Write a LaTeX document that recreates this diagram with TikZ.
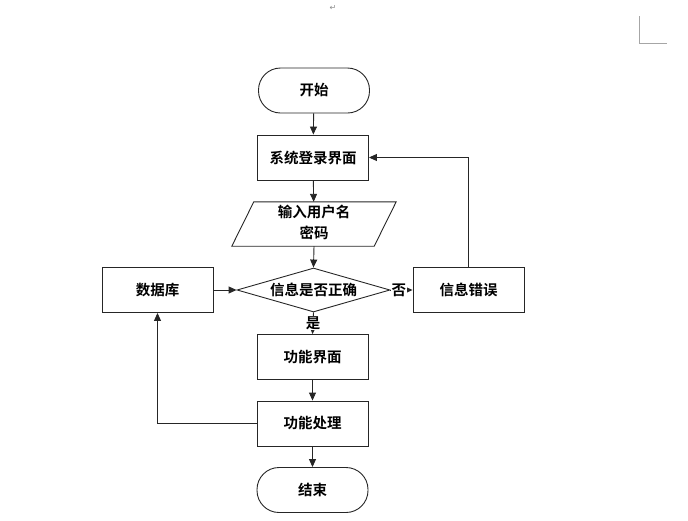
\documentclass[tikz,border=0pt]{standalone}
\usepackage{fontspec}
\setmainfont{Noto Sans CJK SC}[BoldFont={Noto Sans CJK SC Bold}]
\newfontfamily\symfont{DejaVu Sans}
\usetikzlibrary{arrows.meta,shapes.geometric,positioning,calc}
\tikzset{
  every node/.style={font=\fontsize{14.5}{16}\selectfont\bfseries},
  box/.style={draw=black!85,line width=0.9pt,minimum width=111pt,minimum height=45pt,inner sep=0pt},
  term/.style={box,rounded corners=22pt},
  plain/.style={minimum width=164pt,minimum height=44pt,inner sep=0pt},
  decision/.style={diamond,draw=black!85,line width=0.9pt,minimum width=153pt,minimum height=44pt,inner sep=0pt,aspect=3.5},
  conn/.style={draw=black!85,line width=0.9pt,-{Triangle[length=8pt,width=7pt]}},
  lab/.style={fill=white,inner sep=0.5pt},
}
\begin{document}
\begin{tikzpicture}[x=1pt,y=-1pt]
\useasboundingbox (0,0) rectangle (688,520);
% page artefacts
\node[text=black!45,font=\symfont\fontsize{8}{8}\selectfont] (pm) at (333,8) {↵};
\coordinate (c1) at (639,16);
\coordinate (c2) at (639,43);
\coordinate (c3) at (667,43);
\draw[black!35,line width=0.8pt] (c1) -- (c2) -- (c3);

\node[term] (start) at (314,90.5) {开始};
\node[box] (login) at (313,157.5) {系统登录界面};
\node[plain] (inp) at (314,224) {\begin{tabular}{@{}c@{}}输入用户名\\[4pt]密码\end{tabular}};
\draw[draw=black!85,line width=0.9pt] ($(inp.north west)+(22,0)$) -- (inp.north east) -- ($(inp.south east)+(-22,0)$) -- (inp.south west) -- cycle;
\node[decision] (dec) at (313.5,290) {信息是否正确};
\node[box] (db) at (157.5,290) {数据库};
\node[box] (err) at (468.5,290) {信息错误};
\node[box] (func) at (312.5,357) {功能界面};
\node[box] (proc) at (312.5,423.5) {功能处理};
\node[term] (end) at (312.5,490) {结束};

\draw[conn] (start) -- (login);
\draw[conn] (login) -- (inp);
\draw[conn] (inp.south) -- (dec.north);
\draw[conn] (db) -- (dec);
\draw[conn] (dec) -- (err) node[lab,pos=0.38] (no) {否};
\draw[conn] (dec.south) -- (func.north) node[lab,pos=0.5] (yes) {是};
\draw[conn] (func) -- (proc);
\draw[conn] (proc) -- (end);
\draw[conn] (proc.west) -| (db.south);
\draw[conn] (err.north) |- (login.east);
\end{tikzpicture}
\end{document}
